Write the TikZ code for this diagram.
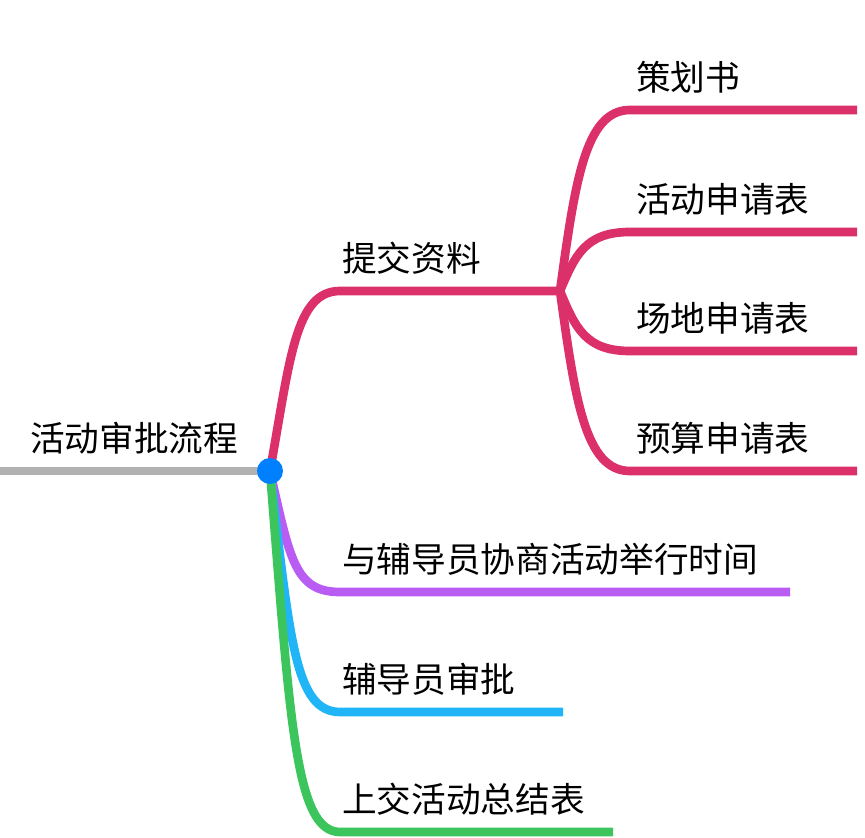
\documentclass[tikz,border=0pt]{standalone}
\usepackage{fontspec}
\newfontfamily\cjk{Noto Sans CJK SC}
\definecolor{crimson}{HTML}{DB3069}
\definecolor{violet}{HTML}{B95CF4}
\definecolor{sky}{HTML}{1FB5F7}
\definecolor{leaf}{HTML}{3CC55C}
\begin{document}
\begin{tikzpicture}[x=0.75pt,y=-0.75pt,
            label/.style={anchor=south west, inner sep=0pt, font=\cjk\fontsize{26}{30}\selectfont},
            branch/.style={line width=6.5pt, line join=round}
        ]
            \useasboundingbox (0,0) rectangle (865,838);
            % Root
            \coordinate (left) at (0,471);
            \coordinate (root) at (270,471);
            \node[label] (title) at (30,455) {活动审批流程};
            \draw[line width=6pt, gray!60] (left) -- (root);
            
            % Main branches
            \coordinate (tj) at (340,291);  \coordinate (tjend) at (560,291);
            \coordinate (xs) at (340,592);  \coordinate (xsend) at (790,592);
            \coordinate (sp) at (340,712);  \coordinate (spend) at (563,712);
            \coordinate (zj) at (340,832);  \coordinate (zjend) at (613,832);
            \node[label] (tjlabel) at (342,275) {提交资料};
            \node[label] (xslabel) at (342,576) {与辅导员协商活动举行时间};
            \node[label] (splabel) at (342,696) {辅导员审批};
            \node[label] (zjlabel) at (342,816) {上交活动总结表};
            
            \draw[branch, crimson] (root) .. controls (290,360) and (295,291) .. (tj) -- (tjend);
            \draw[branch, violet] (root) .. controls (290,560) and (295,592) .. (xs) -- (xsend);
            \draw[branch, sky] (root) .. controls (290,640) and (295,712) .. (sp) -- (spend);
            \draw[branch, leaf] (root) .. controls (290,720) and (295,832) .. (zj) -- (zjend);
            
            % Sub branches
            \foreach \y/\name/\txt in {110/ch/策划书, 232/hd/活动申请表, 351/cd/场地申请表, 471/ys/预算申请表} {
                \coordinate (\name) at (630,\y);
                \coordinate (\name end) at (857,\y);
                \node[label] (\name label) at (636,\y-16) {\txt};
                \draw[branch, crimson] (tjend) .. controls (575,0.4*291+0.6*\y) and (585,\y) .. (\name) -- (\name end);
            }
            
            \fill[blue!50!cyan] (root) circle (13);
        \end{tikzpicture}
\end{document}
